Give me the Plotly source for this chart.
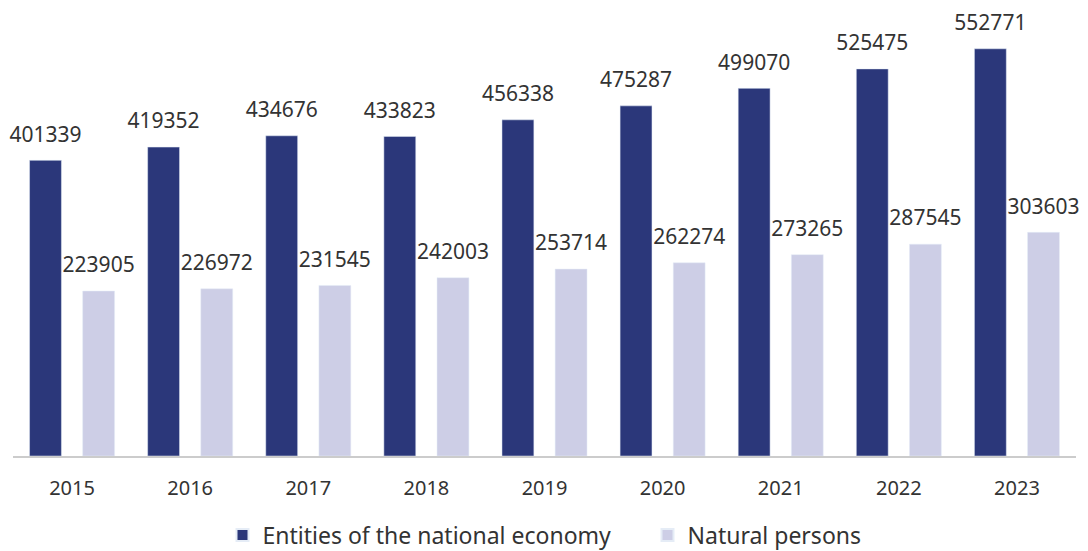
import plotly.graph_objects as go

years = ["2015", "2016", "2017", "2018", "2019", "2020", "2021", "2022", "2023"]
entities = [401339, 419352, 434676, 433823, 456338, 475287, 499070, 525475, 552771]
persons = [223905, 226972, 231545, 242003, 253714, 262274, 273265, 287545, 303603]

dark = "#2B377A"
light = "#CDCEE6"
font_family = "Noto Sans"
text_color = "#333333"

fig = go.Figure()
fig.add_trace(go.Bar(x=years, y=entities, name="Entities of the national economy",
                     marker=dict(color=dark), offsetgroup="a", legendwidth=380))
fig.add_trace(go.Bar(x=years, y=persons, name="Natural persons",
                     marker=dict(color=light), offsetgroup="b"))
# value labels
for vals, grp in ((entities, "a"), (persons, "b")):
    fig.add_trace(go.Scatter(x=years, y=vals, mode="markers+text", text=[str(v) for v in vals],
                             textposition="top center", offsetgroup=grp, showlegend=False,
                             marker=dict(size=20, opacity=0), hoverinfo="skip", cliponaxis=False,
                             textfont=dict(size=21, color=text_color, family=font_family)))

fig.update_layout(
    width=1088, height=551,
    margin=dict(l=5, r=20, t=6, b=103, autoexpand=False),
    plot_bgcolor="white", paper_bgcolor="white",
    barmode="group", bargap=0.10, bargroupgap=0.40,
    scattermode="group", scattergap=0.10,
    font=dict(family=font_family, color=text_color, size=20),
    xaxis=dict(showline=True, linecolor="#CCCCCC", linewidth=2, ticks="",
               tickfont=dict(size=20, color=text_color), showgrid=False,
               ticklabelstandoff=13),
    yaxis=dict(range=[0, 600000], visible=False, showgrid=False),
    legend=dict(orientation="h", x=0.5, xanchor="center", y=-0.179, yanchor="middle",
                font=dict(size=23, color=text_color), itemsizing="constant"),
    showlegend=True,
)

fig.write_html("out.html")
